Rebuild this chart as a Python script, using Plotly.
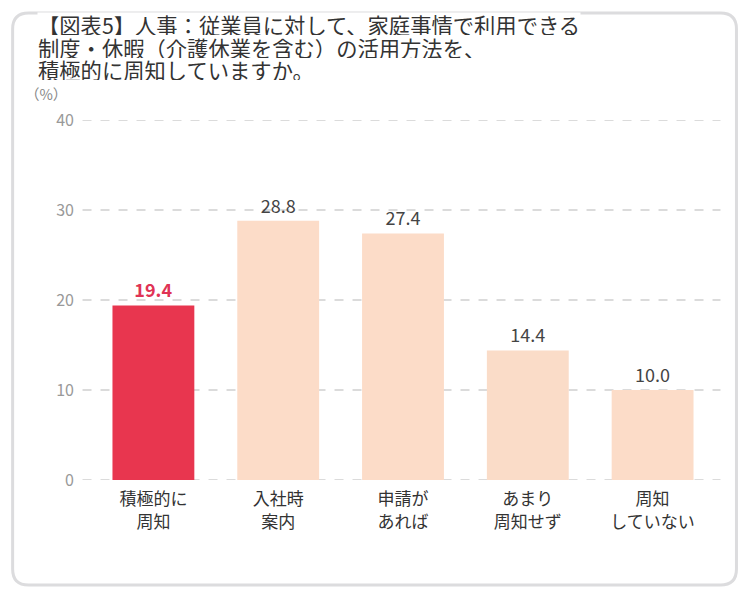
import plotly.graph_objects as go

categories = ["積極的に<br>周知", "入社時<br>案内", "申請が<br>あれば", "あまり<br>周知せず", "周知<br>していない"]
values = [19.4, 28.8, 27.4, 14.4, 10.0]
bar_colors = ["#E8364F", "#FCDCC8", "#FCDCC8", "#FADCC8", "#FCDCC8"]
label_colors = ["#E03355", "#444444", "#444444", "#444444", "#444444"]
labels = ["<b>19.4</b>", "28.8", "27.4", "14.4", "10.0"]
y_ticks = [0, 10, 20, 30, 40]
title_lines = ["【図表5】人事：従業員に対して、家庭事情で利用できる",
               "制度・休暇（介護休業を含む）の活用方法を、",
               "積極的に周知していますか。"]

W, H = 750, 600
L, R, T, B = 90.5, 34.5, 120, 120
pw, ph = W - L - R, H - T - B

def px(x):
    return (x - L) / pw

def py(y):
    return (H - B - y) / ph

FONT = "Noto Sans CJK JP"

fig = go.Figure(go.Bar(
    x=list(range(len(categories))), y=values,
    marker=dict(color=bar_colors, line=dict(width=0)),
    text=labels, textposition="outside",
    textfont=dict(size=18, color=label_colors, family=FONT),
    cliponaxis=False, width=0.656,
))

shapes = []
# rounded border
x0, x1, y0, y1, r = px(12), px(737), py(13), py(585), 16
rx, ry = r / pw, r / ph
path = (f"M {x0+rx},{y0} L {x1-rx},{y0} Q {x1},{y0} {x1},{y0-ry} "
        f"L {x1},{y1+ry} Q {x1},{y1} {x1-rx},{y1} L {x0+rx},{y1} "
        f"Q {x0},{y1} {x0},{y1+ry} L {x0},{y0-ry} Q {x0},{y0} {x0+rx},{y0} Z")
shapes.append(dict(type="path", path=path, xref="paper", yref="paper",
                   line=dict(color="#DCDCDE", width=3), layer="below"))
for t in y_ticks:
    shapes.append(dict(type="line", xref="paper", yref="y", x0=px(82), x1=px(721), y0=t, y1=t,
                       line=dict(color="#CFCFCF", width=1.5, dash="dash"), layer="below"))

annotations = []
for i, line in enumerate(title_lines):
    annotations.append(dict(text=line, xref="paper", yref="paper", x=px(36), y=py(24 + i * 22.5),
                            xanchor="left", yanchor="middle", showarrow=False, height=22,
                            font=dict(size=21.3, color="#333333", family=FONT),
                            bgcolor="white" if i == 0 else None, borderpad=0))
annotations.append(dict(text="（%）", xref="paper", yref="paper", x=px(22), y=py(93),
                        xanchor="left", yanchor="middle", showarrow=False, height=16,
                        font=dict(size=14.5, color="#888888", family=FONT)))

fig.update_layout(
    width=W, height=H, margin=dict(l=L, r=R, t=T, b=B),
    paper_bgcolor="white", plot_bgcolor="white",
    showlegend=False, shapes=shapes, annotations=annotations,
    font=dict(family=FONT),
    xaxis=dict(tickvals=list(range(len(categories))), ticktext=categories,
               range=[-0.5, len(categories) - 0.5], showgrid=False, zeroline=False,
               showline=False, tickfont=dict(size=17, color="#333333", family=FONT),
               ticks="outside", ticklen=4, tickcolor="white"),
    yaxis=dict(range=[0, 40], tickvals=y_ticks, showgrid=False, zeroline=False,
               showline=False, tickfont=dict(size=16, color="#999999", family=FONT),
               ticklabelstandoff=16),
)

fig.write_html("out.html")
